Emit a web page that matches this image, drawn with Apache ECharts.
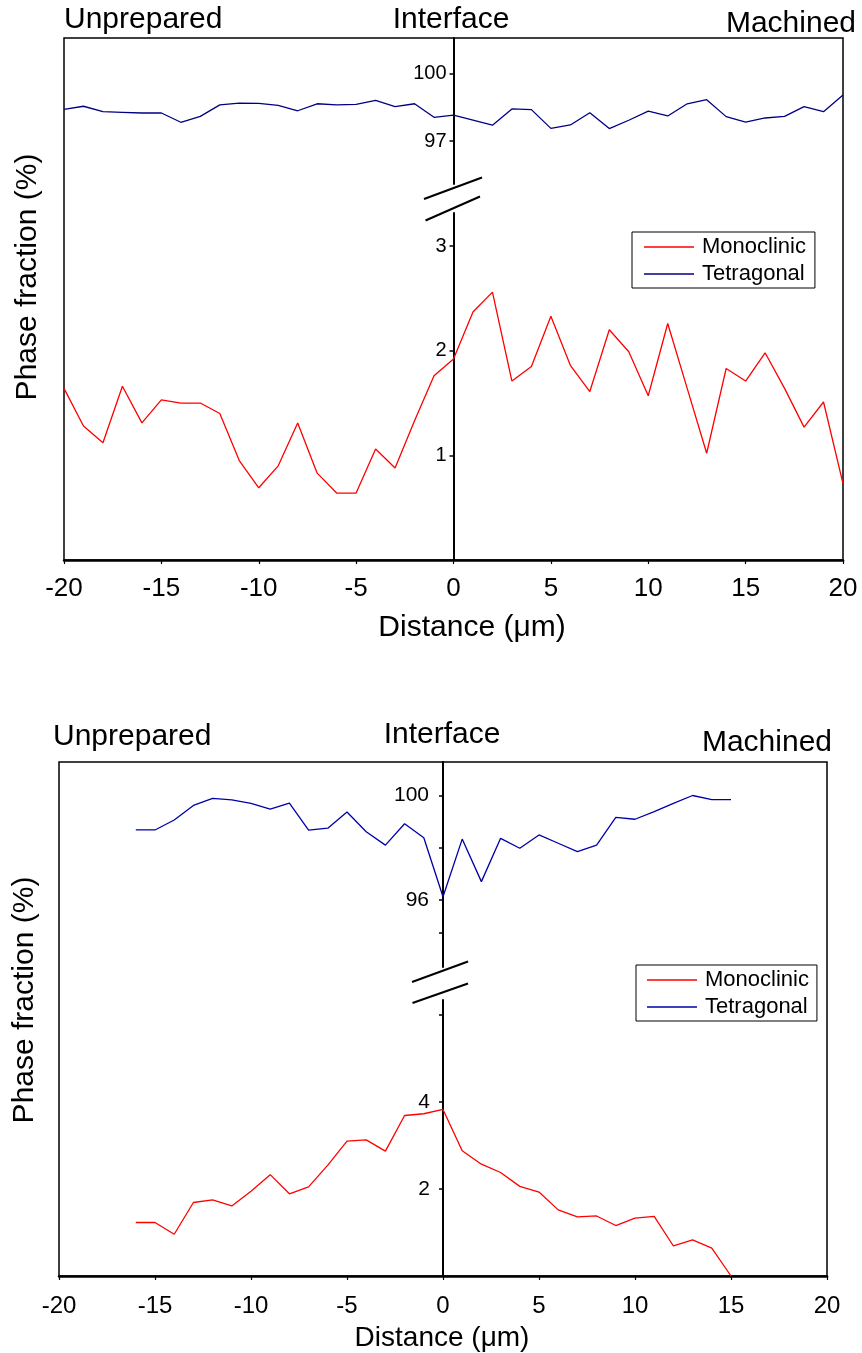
<!DOCTYPE html>
<html><head><meta charset="utf-8">
<script src="https://cdn.jsdelivr.net/npm/echarts@6/dist/echarts.min.js"></script>
<style>html,body{margin:0;padding:0;background:#fff}#c{width:862px;height:1353px}</style>
</head><body><div id="c"></div>
<script>
// ---------- DATA ----------
const topDistance = [-20,-19,-18,-17,-16,-15,-14,-13,-12,-11,-10,-9,-8,-7,-6,-5,-4,-3,-2,-1,0,1,2,3,4,5,6,7,8,9,10,11,12,13,14,15,16,17,18,19,20];
const topTetragonal = [98.40,98.54,98.30,98.27,98.24,98.24,97.83,98.09,98.60,98.68,98.67,98.58,98.34,98.65,98.60,98.62,98.80,98.52,98.65,98.05,98.15,97.93,97.70,98.42,98.39,97.56,97.71,98.25,97.55,97.92,98.32,98.11,98.65,98.83,98.08,97.84,98.02,98.09,98.52,98.30,99.04];
const topMonoclinic = [1.64,1.28,1.12,1.66,1.31,1.53,1.50,1.50,1.40,0.95,0.69,0.90,1.31,0.83,0.64,0.64,1.06,0.88,1.33,1.76,1.92,2.37,2.56,1.71,1.85,2.33,1.86,1.61,2.20,1.99,1.57,2.26,1.64,1.02,1.83,1.71,1.98,1.64,1.27,1.51,0.73];

const bottomDistance = [-16,-15,-14,-13,-12,-11,-10,-9,-8,-7,-6,-5,-4,-3,-2,-1,0,1,2,3,4,5,6,7,8,9,10,11,12,13,14,15];
const bottomTetragonal = [98.68,98.68,99.06,99.62,99.89,99.83,99.70,99.48,99.71,98.67,98.75,99.37,98.61,98.10,98.92,98.38,96.12,98.33,96.70,98.36,97.98,98.49,98.17,97.85,98.10,99.16,99.09,99.38,99.70,100.0,99.84,99.84];
const bottomMonoclinic = [1.23,1.23,0.96,1.69,1.75,1.61,1.95,2.33,1.89,2.05,2.55,3.10,3.13,2.87,3.69,3.73,3.83,2.88,2.57,2.38,2.06,1.93,1.52,1.36,1.38,1.16,1.33,1.37,0.69,0.83,0.64,0.00];

const seriesNames = ['Monoclinic', 'Tetragonal'];
const topUpperTicks = [97, 100];
const topLowerTicks = [1, 2, 3];
const bottomUpperTicks = [94.73, 96, 98, 100];
const bottomUpperLabels = [96, 100];
const bottomLowerTicks = [2, 4, 6];
const bottomLowerLabels = [2, 4];

// ---------- STYLE ----------
const FONT = '"Liberation Sans", Arial, Helvetica, sans-serif';
const RED = '#ff0000';
const NAVY_TOP = '#000080';
const NAVY_BOT = '#0000a8';

function pairs(xs, ys) { return xs.map((x, i) => [x, ys[i]]); }

const chart = echarts.init(document.getElementById('c'), null, { renderer: 'canvas' });

const grids = [
  { left: 64, top: 38, width: 779, height: 522 },   // 0 top frame
  { left: 64, top: 38, width: 779, height: 146 },   // 1 top upper
  { left: 64, top: 213, width: 779, height: 347 },  // 2 top lower
  { left: 59, top: 762, width: 768, height: 514 },  // 3 bottom frame
  { left: 59, top: 762, width: 768, height: 205 },  // 4 bottom upper
  { left: 59, top: 1000, width: 768, height: 276 }  // 5 bottom lower
].map((g, i) => Object.assign({
  show: i === 0 || i === 3,
  borderColor: '#000', borderWidth: 1.5, backgroundColor: 'transparent',
  containLabel: false
}, g));

function frameX(gi, fs, margin) {
  return {
    gridIndex: gi, type: 'value', min: -20, max: 20, interval: 5,
    axisLine: { onZero: false, lineStyle: { color: '#000', width: 2.5 } },
    axisTick: { show: true, length: 4, lineStyle: { color: '#000', width: 1.2 } },
    axisLabel: { color: '#000', fontSize: fs, fontFamily: FONT, margin: margin },
    splitLine: { show: false }
  };
}
function hiddenX(gi) {
  return { gridIndex: gi, type: 'value', min: -20, max: 20, interval: 5, show: false, splitLine: { show: false } };
}
// vertical "Interface" axis placed at distance 0 (middle of the x range)
function midY(gi, min, max, ticks, labels, fs, margin) {
  const g = grids[gi];
  return {
    gridIndex: gi, type: 'value', min: min, max: max, position: 'left',
    offset: -g.width / 2,
    axisLine: { show: true, onZero: false, lineStyle: { color: '#000', width: 2 } },
    axisTick: { show: true, length: 4, customValues: ticks, lineStyle: { color: '#000', width: 1.5 } },
    axisLabel: { show: true, customValues: labels, color: '#000', fontSize: fs, fontFamily: FONT, margin: margin },
    splitLine: { show: false }
  };
}
function legendCfg(left, top, pad, navy) {
  return {
    left: left, top: top, orient: 'vertical', selectedMode: false,
    icon: 'rect',
    data: [
      { name: seriesNames[0], itemStyle: { color: RED } },
      { name: seriesNames[1], itemStyle: { color: navy } }
    ],
    itemWidth: 50, itemHeight: 1.6, itemGap: 1,
    borderColor: '#000', borderWidth: 1, padding: pad,
    textStyle: { color: '#000', fontSize: 22, lineHeight: 26, fontFamily: FONT, padding: [0, 0, 0, 3] }
  };
}

const option = {
  backgroundColor: '#fff',
  animation: false,
  grid: grids,
  xAxis: [
    frameX(0, 26, 16), hiddenX(1), hiddenX(2),
    frameX(3, 24, 18), hiddenX(4), hiddenX(5)
  ],
  yAxis: [
    { gridIndex: 0, type: 'value', min: 0, max: 1, show: false, splitLine: { show: false } },
    midY(1, 95.095, 101.564, topUpperTicks, topUpperTicks, 20, 7),
    midY(2, 0, 3.316, topLowerTicks, topLowerTicks, 20, 7),
    { gridIndex: 3, type: 'value', min: 0, max: 1, show: false, splitLine: { show: false } },
    midY(4, 93.429, 101.284, bottomUpperTicks, bottomUpperLabels, 21, 14),
    midY(5, 0, 6.345, bottomLowerTicks, bottomLowerLabels, 21, 13)
  ],
  legend: [
    legendCfg(632, 232, [2, 9, 1, 12], NAVY_TOP),
    legendCfg(636, 965, [2, 8, 1, 11], NAVY_BOT)
  ],
  series: [
    { type: 'line', name: seriesNames[1], xAxisIndex: 1, yAxisIndex: 1, data: pairs(topDistance, topTetragonal),
      symbol: 'none', color: NAVY_TOP, lineStyle: { color: NAVY_TOP, width: 1.3 }, clip: false },
    { type: 'line', name: seriesNames[0], xAxisIndex: 2, yAxisIndex: 2, data: pairs(topDistance, topMonoclinic),
      symbol: 'none', color: RED, lineStyle: { color: RED, width: 1.3 }, clip: false },
    { type: 'line', name: seriesNames[1], xAxisIndex: 4, yAxisIndex: 4, data: pairs(bottomDistance, bottomTetragonal),
      symbol: 'none', color: NAVY_BOT, lineStyle: { color: NAVY_BOT, width: 1.3 }, clip: false },
    { type: 'line', name: seriesNames[0], xAxisIndex: 5, yAxisIndex: 5, data: pairs(bottomDistance, bottomMonoclinic),
      symbol: 'none', color: RED, lineStyle: { color: RED, width: 1.3 }, clip: false }
  ],
  graphic: [
    // top chart texts
    { type: 'text', x: 64, y: 20, style: { text: 'Unprepared', fill: '#000', font: '30px ' + FONT, textAlign: 'left', textVerticalAlign: 'middle' } },
    { type: 'text', x: 451, y: 20, style: { text: 'Interface', fill: '#000', font: '30px ' + FONT, textAlign: 'center', textVerticalAlign: 'middle' } },
    { type: 'text', x: 856, y: 24, style: { text: 'Machined', fill: '#000', font: '30px ' + FONT, textAlign: 'right', textVerticalAlign: 'middle' } },
    { type: 'text', x: 28, y: 277, rotation: Math.PI / 2, style: { text: 'Phase fraction (%)', fill: '#000', font: '30px ' + FONT, textAlign: 'center', textVerticalAlign: 'middle' } },
    { type: 'text', x: 472, y: 628, style: { text: 'Distance (μm)', fill: '#000', font: '30px ' + FONT, textAlign: 'center', textVerticalAlign: 'middle' } },
    // top break
    { type: 'line', shape: { x1: 424, y1: 199, x2: 482, y2: 177.5 }, style: { stroke: '#000', lineWidth: 2 } },
    { type: 'line', shape: { x1: 425.5, y1: 220.5, x2: 480, y2: 196.5 }, style: { stroke: '#000', lineWidth: 2 } },
    // bottom chart texts
    { type: 'text', x: 53, y: 737, style: { text: 'Unprepared', fill: '#000', font: '30px ' + FONT, textAlign: 'left', textVerticalAlign: 'middle' } },
    { type: 'text', x: 442, y: 735, style: { text: 'Interface', fill: '#000', font: '30px ' + FONT, textAlign: 'center', textVerticalAlign: 'middle' } },
    { type: 'text', x: 832, y: 743, style: { text: 'Machined', fill: '#000', font: '30px ' + FONT, textAlign: 'right', textVerticalAlign: 'middle' } },
    { type: 'text', x: 25, y: 1000, rotation: Math.PI / 2, style: { text: 'Phase fraction (%)', fill: '#000', font: '30px ' + FONT, textAlign: 'center', textVerticalAlign: 'middle' } },
    { type: 'text', x: 442, y: 1338, style: { text: 'Distance (μm)', fill: '#000', font: '28px ' + FONT, textAlign: 'center', textVerticalAlign: 'middle' } },
    // bottom break
    { type: 'line', shape: { x1: 412, y1: 982, x2: 468, y2: 961.5 }, style: { stroke: '#000', lineWidth: 2 } },
    { type: 'line', shape: { x1: 412.5, y1: 1003, x2: 468, y2: 983.5 }, style: { stroke: '#000', lineWidth: 2 } }
  ]
};
chart.setOption(option);
</script>
</body></html>
